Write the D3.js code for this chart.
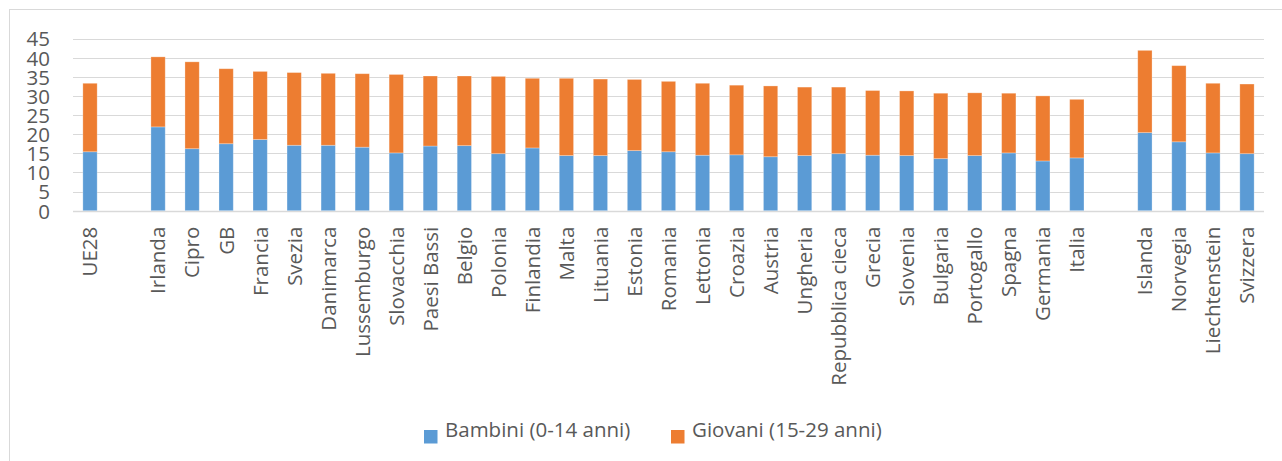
<!DOCTYPE html>
<html>
<head>
<meta charset="utf-8">
<script src="https://cdn.jsdelivr.net/npm/d3@7"></script>
<style>
  html, body { margin: 0; padding: 0; background: #fff; }
  svg { display: block; }
</style>
</head>
<body>
<svg id="chart" width="1282" height="461"></svg>
<script>
// Country groups (EU average, member states, EFTA countries)
const aggregate = ["UE28"];
const memberStates = ["Irlanda", "Cipro", "GB", "Francia", "Svezia", "Danimarca", "Lussemburgo",
  "Slovacchia", "Paesi Bassi", "Belgio", "Polonia", "Finlandia", "Malta", "Lituania", "Estonia",
  "Romania", "Lettonia", "Croazia", "Austria", "Ungheria", "Repubblica cieca", "Grecia", "Slovenia",
  "Bulgaria", "Portogallo", "Spagna", "Germania", "Italia"];
const eftaStates = ["Islanda", "Norvegia", "Liechtenstein", "Svizzera"];

// Share of population, % (same order: aggregate, member states, EFTA)
const bambini = [15.4,
  21.9, 16.2, 17.5, 18.6, 17.1, 17.1, 16.6, 15.1, 16.9, 17.0, 14.9, 16.4, 14.4, 14.4, 15.7,
  15.4, 14.5, 14.6, 14.1, 14.4, 14.9, 14.5, 14.4, 13.6, 14.4, 15.1, 13.0, 13.8,
  20.4, 18.0, 15.1, 14.9];
const giovani = [17.9,
  18.3, 22.7, 19.6, 17.8, 19.0, 18.8, 19.2, 20.5, 18.3, 18.2, 20.2, 18.2, 20.2, 20.0, 18.6,
  18.4, 18.8, 18.2, 18.5, 17.9, 17.4, 16.9, 16.9, 17.1, 16.4, 15.6, 17.0, 15.3,
  21.5, 19.9, 18.2, 18.2];

const seriesNames = ["Bambini (0-14 anni)", "Giovani (15-29 anni)"];
const seriesColors = ["#5b9bd5", "#ed7d31"];
const yTicks = [0, 5, 10, 15, 20, 25, 30, 35, 40, 45];

const countries = aggregate.concat(memberStates, eftaStates);
const rows = countries.map((c, i) => ({ country: c, bambini: bambini[i], giovani: giovani[i] }));

// Category slots, with empty spacer slots between the groups
const slots = aggregate.concat(["__gap1"], memberStates, ["__gap2"], eftaStates);

const svg = d3.select("#chart");
const textColor = "#595959";
const gridColor = "#d9d9d9";

// Chart frame
svg.append("rect")
  .attr("x", 9.5).attr("y", 9.5)
  .attr("width", 1300).attr("height", 500)
  .attr("fill", "none").attr("stroke", gridColor).attr("stroke-width", 1);

const x = d3.scaleBand()
  .domain(slots)
  .range([73, 1264])
  .paddingInner(0.58)
  .paddingOuter(0.29);

const y = d3.scaleLinear().domain([0, 45]).range([210.7, 38.5]);

// Horizontal gridlines
svg.append("g")
  .selectAll("line")
  .data(yTicks)
  .join("line")
  .attr("x1", 73).attr("x2", 1264)
  .attr("y1", d => Math.round(y(d)) + 0.5)
  .attr("y2", d => Math.round(y(d)) + 0.5)
  .attr("stroke", gridColor)
  .attr("stroke-width", d => d === 0 ? 1.6 : 1.2);

// Stacked bars
const stack = d3.stack().keys(["bambini", "giovani"]);
const layers = stack(rows);

svg.append("g")
  .selectAll("g")
  .data(layers)
  .join("g")
  .attr("fill", (d, i) => seriesColors[i])
  .selectAll("rect")
  .data(d => d)
  .join("rect")
  .attr("x", d => x(d.data.country))
  .attr("width", x.bandwidth())
  .attr("y", d => y(d[1]))
  .attr("height", d => y(d[0]) - y(d[1]))
  .attr("stroke", "#ffffff")
  .attr("stroke-opacity", 0.35)
  .attr("stroke-width", 0.8);

// Y axis labels
const yAxis = svg.append("g")
  .attr("transform", "translate(73,0)")
  .call(d3.axisLeft(y).tickValues(yTicks).tickSize(0).tickPadding(23).tickFormat(d3.format("d")));
yAxis.select(".domain").remove();
yAxis.selectAll("text")
  .attr("fill", textColor)
  .attr("dy", "0.36em")
  .style("font-family", "'Open Sans', sans-serif")
  .style("font-size", "20.5px");

// X axis labels, rotated
const xAxis = svg.append("g")
  .attr("transform", `translate(0,${y(0)})`)
  .call(d3.axisBottom(x).tickSize(0).tickFormat(d => d.startsWith("__") ? "" : d));
xAxis.select(".domain").remove();
xAxis.selectAll("text")
  .attr("transform", "rotate(-90)")
  .attr("x", -16)
  .attr("y", 0)
  .attr("dy", "0.36em")
  .attr("text-anchor", "end")
  .attr("fill", textColor)
  .style("font-family", "'Open Sans', sans-serif")
  .style("font-size", "20.5px");

// Legend
const legendX = [424, 671];
const legend = svg.append("g")
  .selectAll("g")
  .data(seriesNames)
  .join("g")
  .attr("transform", (d, i) => `translate(${legendX[i]},430)`);
legend.append("rect")
  .attr("width", 13.5).attr("height", 13.5)
  .attr("fill", (d, i) => seriesColors[i]);
legend.append("text")
  .attr("x", 21)
  .attr("y", 7)
  .attr("fill", textColor)
  .style("font-family", "'Open Sans', sans-serif")
  .style("font-size", "20.5px")
  .text(d => d);
</script>
</body>
</html>
